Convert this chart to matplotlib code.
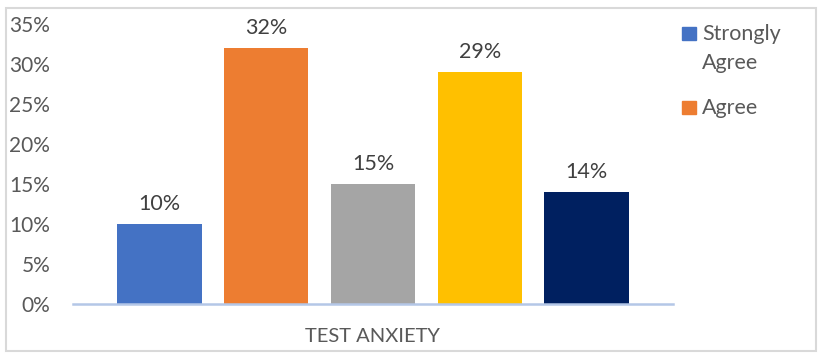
import matplotlib
matplotlib.use("Agg")
import matplotlib.pyplot as plt
from matplotlib.patches import Rectangle

series = ["Strongly\nAgree", "Agree", "Neutral", "Disagree", "Strongly Disagree"]
values = [10, 32, 15, 29, 14]
colors = ["#4472C4", "#ED7D31", "#A5A5A5", "#FFC000", "#002060"]
category = "TEST ANXIETY"
yticks = [0, 5, 10, 15, 20, 25, 30, 35]

plt.rcParams['font.family'] = ['Lato', 'DejaVu Sans']
W, H = 818, 363
fig = plt.figure(figsize=(W / 100, H / 100), dpi=100)
ax = fig.add_axes([73 / W, 1 - 304 / H, 600 / W, 280 / H])

n = len(values)
pos = [i - (n - 1) / 2 for i in range(n)]
for p, v, c, s in zip(pos, values, colors, series):
    ax.bar(p, v, width=0.79, color=c, label=s)
    ax.text(p, v + 2.45, f"{v}%", ha="center", va="center", fontsize=15.5, color="#404040")

ax.set_xlim(-2.81, 2.81)
ax.set_ylim(0, 35)
ax.set_yticks(yticks)
ax.set_yticklabels([f"{t}%" for t in yticks], fontsize=15, color="#595959")
ax.tick_params(axis="y", length=0, pad=16.5)
ax.set_xticks([])
for s in ["top", "right", "left"]:
    ax.spines[s].set_visible(False)
ax.spines["bottom"].set_color("#B4C7E7")
ax.spines["bottom"].set_linewidth(1.8)

fig.text(372 / W, 1 - 337 / H, category, ha="center", va="center", fontsize=14.5, color="#595959")

# legend (only the first two entries are visible in the reference)
leg_y = [27, 101]
for i in range(2):
    y0 = leg_y[i]
    fig.patches.append(Rectangle((682 / W, 1 - (y0 + 13) / H), 14 / W, 13 / H,
                                 transform=fig.transFigure, color=colors[i]))
    fig.text(702 / W, 1 - (y0 - 3) / H, series[i], ha="left", va="top", fontsize=15.5,
             color="#595959", linespacing=1.55)

fig.patches.append(Rectangle((6 / W, 1 - 351 / H), 810 / W, 343 / H, transform=fig.transFigure,
                             fill=False, edgecolor="#D9D9D9", linewidth=1.5))

fig.savefig("out.png", dpi=100)
